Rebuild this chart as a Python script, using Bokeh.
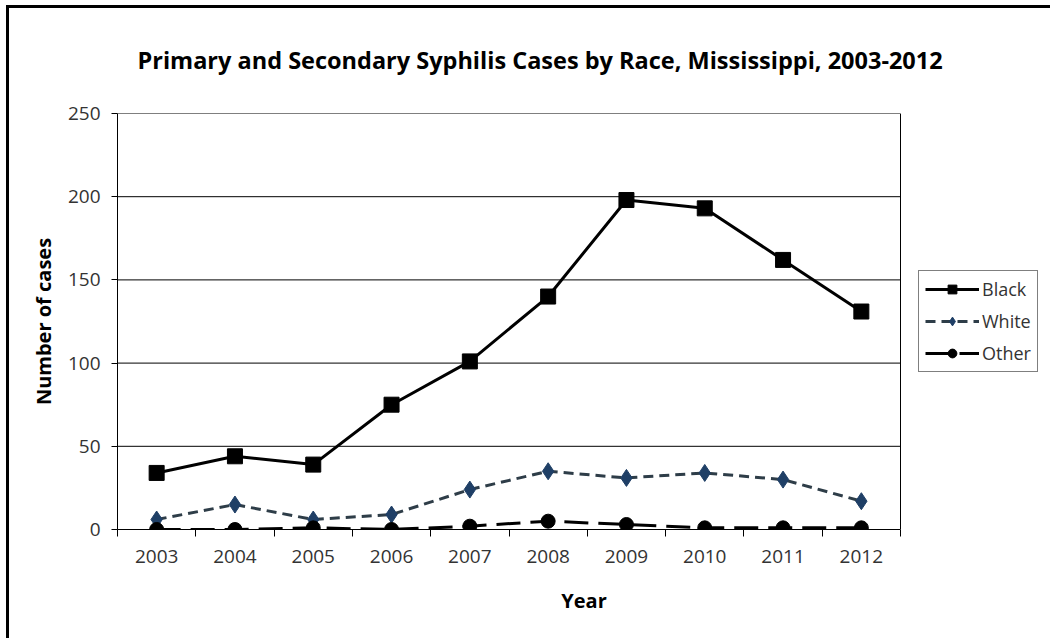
from bokeh.plotting import figure
from bokeh.models import (FixedTicker, Legend, LegendItem, Range1d, InlineStyleSheet)
from bokeh.embed import file_html
from bokeh.resources import INLINE

years = [2003, 2004, 2005, 2006, 2007, 2008, 2009, 2010, 2011, 2012]
black = [34, 44, 39, 75, 101, 140, 198, 193, 162, 131]
white = [6, 15, 6, 9, 24, 35, 31, 34, 30, 17]
other = [0, 0, 1, 0, 2, 5, 3, 1, 1, 1]
y_ticks = [0, 50, 100, 150, 200, 250]

FONT = "Open Sans"
W, H = 1050, 638
FL, FR, FT, FB = 117, 900, 113, 529       # plot-area edges in pixels
x0, x1 = years[0] - 0.5, years[-1] + 0.5
y0, y1 = 0, 250
x_end = x0 + (W - FL) * (x1 - x0) / (FR - FL)   # frame extended right (legend inside it)

p = figure(width=W, height=H, output_backend="svg", toolbar_location=None,
           x_range=Range1d(x0, x_end), y_range=Range1d(y0, y1),
           min_border_left=FL, min_border_right=0, min_border_top=FT, min_border_bottom=H - FB)
p.background_fill_color = "white"
p.border_fill_color = "white"
p.outline_line_color = None

# title
p.title.text = "Primary and Secondary Syphilis Cases by Race, Mississippi, 2003-2012"
p.title.text_font = FONT
p.title.text_font_size = "23.5px"
p.title.text_font_style = "bold"
p.title.text_color = "black"
p.title.align = "left"
p.title.offset = 20
p.title.standoff = 76

# axes
p.xaxis.ticker = FixedTicker(ticks=years, minor_ticks=[y - 0.5 for y in years] + [x1])
p.xaxis.bounds = (x0, x1)
p.xaxis.major_tick_out = 0
p.xaxis.major_tick_in = 0
p.xaxis.minor_tick_out = 7
p.xaxis.minor_tick_in = 0
p.xaxis.minor_tick_line_color = "black"
p.yaxis.ticker = FixedTicker(ticks=y_ticks)
p.yaxis.major_tick_out = 6
p.yaxis.major_tick_in = 0
p.yaxis.minor_tick_line_color = None
for ax in (p.xaxis[0], p.yaxis[0]):
    ax.axis_line_color = "black"
    ax.major_tick_line_color = "black"
    ax.major_label_text_font = FONT
    ax.major_label_text_font_size = "19px"
    ax.major_label_text_color = "#333333"
    ax.axis_label_text_font = FONT
    ax.axis_label_text_font_size = "20px"
    ax.axis_label_text_font_style = "bold"
    ax.axis_label_text_color = "black"
p.xaxis.major_label_standoff = 13
p.yaxis.major_label_standoff = 11
p.xaxis.axis_label = "Year"
p.yaxis.axis_label = "Number of cases"
p.xaxis.axis_label_standoff = 21
p.yaxis.axis_label_standoff = 8

p.xgrid.grid_line_color = None
p.ygrid.grid_line_color = None

# horizontal gridlines and right border of the plot area
grid_y = [t for t in y_ticks if t > 0]
p.segment(x0=[x0] * len(grid_y), y0=grid_y, x1=[x1] * len(grid_y), y1=grid_y,
          line_color="black", line_width=1)
p.segment(x0=[x1], y0=[y0], x1=[x1], y1=[y1], line_color="black", line_width=1)

# series
l1 = p.line(years, black, line_color="black", line_width=3)
s1 = p.scatter(years, black, marker="square", size=15, fill_color="black", line_color="black")
l2 = p.line(years, white, line_color="#2e3d48", line_width=3, line_dash="10 6")
s2 = p.scatter(years, white, marker="diamond", size=17, fill_color="#1f3f66", line_color="#1f3f66")
l3 = p.line(years, other, line_color="black", line_width=3, line_dash="24 10")
s3 = p.scatter(years, other, marker="circle", size=14, fill_color="black", line_color="black")

legend = Legend(items=[LegendItem(label="Black", renderers=[l1, s1]),
                       LegendItem(label="White", renderers=[l2, s2]),
                       LegendItem(label="Other", renderers=[l3, s3])],
                location=(918 - FL, FB - 372), orientation="vertical",
                glyph_width=54, glyph_height=22, label_standoff=3, spacing=8,
                padding=6, margin=0,
                label_text_font=FONT, label_text_font_size="18px", label_text_color="#333333",
                border_line_color="black", border_line_width=1, background_fill_color="white",
                background_fill_alpha=1)
p.add_layout(legend, "center")

# outer frame (top and left edges)
p.stylesheets = [InlineStyleSheet(css=(
    ":host::after { content: ''; position: absolute; left: 6px; top: 5px; right: 0; bottom: 0;"
    " border-top: 3px solid #000; border-left: 3px solid #000; pointer-events: none; z-index: 10; }"
))]

open("out.html", "w").write(file_html(p, INLINE))
